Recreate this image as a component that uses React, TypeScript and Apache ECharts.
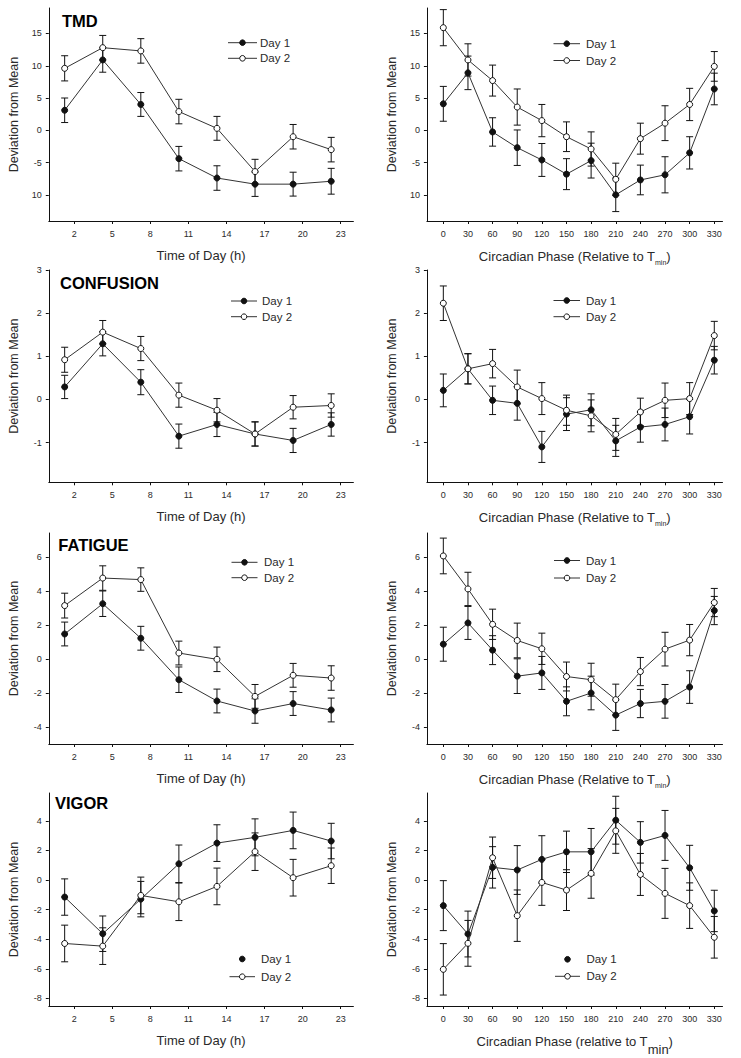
import React, { useEffect, useRef } from "react";
import * as echarts from "echarts";

// ---------- data ----------
const hours = [1.25, 4.25, 7.25, 10.25, 13.25, 16.25, 19.25, 22.25];
const phases = [0, 30, 60, 90, 120, 150, 180, 210, 240, 270, 300, 330];
const hourTicks = [2, 5, 8, 11, 14, 17, 20, 23];
const phaseTicks = [0, 30, 60, 90, 120, 150, 180, 210, 240, 270, 300, 330];

const tmdTicks = [-10, -5, 0, 5, 10, 15];
const confTicks = [-1, 0, 1, 2, 3];
const fatTicks = [-4, -2, 0, 2, 4, 6];
const vigTicks = [-8, -6, -4, -2, 0, 2, 4];

// TMD
const tmdTimeDay1 = [3.1, 10.9, 4.0, -4.4, -7.4, -8.35, -8.35, -7.9];
const tmdTimeDay1Err = [1.9, 1.9, 1.85, 1.9, 1.9, 1.9, 1.85, 2.0];
const tmdTimeDay2 = [9.6, 12.8, 12.3, 2.9, 0.3, -6.4, -1.0, -3.0];
const tmdTimeDay2Err = [1.95, 1.9, 1.9, 1.9, 1.85, 1.9, 1.9, 1.9];
const tmdPhaseDay1 = [4.1, 8.9, -0.26, -2.7, -4.6, -6.8, -4.7, -10.0, -7.7, -6.9, -3.5, 6.4];
const tmdPhaseDay1Err = [2.7, 2.6, 2.2, 2.75, 2.55, 2.4, 2.7, 2.6, 2.3, 2.8, 2.5, 2.45];
const tmdPhaseDay2 = [15.9, 10.9, 7.7, 3.6, 1.5, -1.0, -2.9, -7.6, -1.3, 1.1, 4.0, 9.9];
const tmdPhaseDay2Err = [2.8, 2.5, 2.4, 2.8, 2.5, 2.3, 2.65, 2.5, 2.4, 2.7, 2.5, 2.3];

// CONFUSION
const confTimeDay1 = [0.29, 1.29, 0.4, -0.85, -0.58, -0.8, -0.95, -0.58];
const confTimeDay1Err = [0.27, 0.28, 0.29, 0.28, 0.28, 0.28, 0.28, 0.27];
const confTimeDay2 = [0.92, 1.56, 1.18, 0.1, -0.25, -0.8, -0.18, -0.14];
const confTimeDay2Err = [0.29, 0.27, 0.28, 0.28, 0.27, 0.28, 0.27, 0.27];
const confPhaseDay1 = [0.21, 0.71, -0.02, -0.09, -1.1, -0.34, -0.24, -0.96, -0.64, -0.58, -0.4, 0.91];
const confPhaseDay1Err = [0.38, 0.35, 0.33, 0.39, 0.36, 0.38, 0.37, 0.36, 0.35, 0.38, 0.4, 0.32];
const confPhaseDay2 = [2.23, 0.71, 0.83, 0.29, 0.02, -0.25, -0.38, -0.81, -0.29, -0.02, 0.02, 1.48];
const confPhaseDay2Err = [0.4, 0.35, 0.33, 0.39, 0.37, 0.35, 0.37, 0.37, 0.32, 0.4, 0.37, 0.33];

// FATIGUE
const fatTimeDay1 = [1.49, 3.27, 1.24, -1.2, -2.45, -3.04, -2.6, -2.98];
const fatTimeDay1Err = [0.7, 0.75, 0.7, 0.75, 0.7, 0.72, 0.7, 0.7];
const fatTimeDay2 = [3.16, 4.78, 4.69, 0.37, 0.0, -2.18, -0.94, -1.1];
const fatTimeDay2Err = [0.73, 0.72, 0.69, 0.7, 0.72, 0.7, 0.7, 0.72];
const fatPhaseDay1 = [0.89, 2.14, 0.54, -0.99, -0.8, -2.47, -1.98, -3.28, -2.6, -2.47, -1.63, 2.87];
const fatPhaseDay1Err = [1.0, 0.97, 0.85, 1.02, 0.97, 0.85, 0.99, 0.9, 0.83, 0.99, 0.96, 0.83];
const fatPhaseDay2 = [6.08, 4.14, 2.06, 1.11, 0.62, -1.01, -1.2, -2.37, -0.72, 0.6, 1.13, 3.34];
const fatPhaseDay2Err = [1.05, 0.98, 0.89, 1.02, 0.92, 0.85, 0.97, 0.91, 0.83, 0.99, 0.92, 0.83];

// VIGOR
const vigTimeDay1 = [-1.15, -3.63, -1.29, 1.1, 2.5, 2.89, 3.36, 2.64];
const vigTimeDay1Err = [1.23, 1.2, 1.2, 1.27, 1.24, 1.25, 1.24, 1.2];
const vigTimeDay2 = [-4.29, -4.47, -1.04, -1.47, -0.43, 1.92, 0.16, 0.97];
const vigTimeDay2Err = [1.24, 1.24, 1.24, 1.27, 1.24, 1.27, 1.24, 1.2];
const vigPhaseDay1 = [-1.73, -3.65, 0.86, 0.68, 1.4, 1.91, 1.91, 4.05, 2.55, 3.02, 0.83, -2.09];
const vigPhaseDay1Err = [1.69, 1.55, 1.4, 1.65, 1.6, 1.4, 1.58, 1.62, 1.4, 1.69, 1.52, 1.4];
const vigPhaseDay2 = [-6.04, -4.28, 1.51, -2.41, -0.16, -0.68, 0.45, 3.33, 0.38, -0.9, -1.73, -3.87];
const vigPhaseDay2Err = [1.74, 1.55, 1.4, 1.74, 1.55, 1.38, 1.68, 1.52, 1.42, 1.69, 1.54, 1.41];

const seriesNames = ["Day 1", "Day 2"];
const titles = ["TMD", "CONFUSION", "FATIGUE", "VIGOR"];

// ---------- layout ----------
const FONT = "'Liberation Sans', Arial, Helvetica, sans-serif";
const INK = "#111";
const TXT = "#2a2a2a";

const colLayout = [
  { left: 48.8, width: 304.6, min: 0, max: 24 },
  { left: 426.9, width: 295.6, min: -20, max: 340 },
];
const rowLayout = [
  { top: 8, height: 213, min: -14.06, max: 18.95 },
  { top: 270, height: 212.3, min: -1.92, max: 3 },
  { top: 533, height: 211, min: -4.98, max: 7.43 },
  { top: 793, height: 213, min: -8.52, max: 5.89 },
];
const titlePos = [
  { x: 62, y: 21 },
  { x: 60, y: 282.5 },
  { x: 58.3, y: 545 },
  { x: 55, y: 803 },
];
// legend: [lineStartX, lineEndX, textX, y1, y2, day1HasLine]
const legendPos: any[] = [
  [228, 257, 260, 42.7, 58.3, true],
  [553.5, 580, 586, 43.7, 60.5, true],
  [231, 257, 262, 301, 316.7, true],
  [553.5, 580, 586, 300.5, 316.7, true],
  [231.5, 257.5, 264, 562.3, 577.7, true],
  [554, 580, 586, 560.5, 578, true],
  [229.5, 255, 261, 959, 976.7, false],
  [555, 580, 586.5, 959.3, 976.3, false],
];

const panels = [
  { xs: hours, ticks: tmdTicks, d1: tmdTimeDay1, e1: tmdTimeDay1Err, d2: tmdTimeDay2, e2: tmdTimeDay2Err },
  { xs: phases, ticks: tmdTicks, d1: tmdPhaseDay1, e1: tmdPhaseDay1Err, d2: tmdPhaseDay2, e2: tmdPhaseDay2Err },
  { xs: hours, ticks: confTicks, d1: confTimeDay1, e1: confTimeDay1Err, d2: confTimeDay2, e2: confTimeDay2Err },
  { xs: phases, ticks: confTicks, d1: confPhaseDay1, e1: confPhaseDay1Err, d2: confPhaseDay2, e2: confPhaseDay2Err },
  { xs: hours, ticks: fatTicks, d1: fatTimeDay1, e1: fatTimeDay1Err, d2: fatTimeDay2, e2: fatTimeDay2Err },
  { xs: phases, ticks: fatTicks, d1: fatPhaseDay1, e1: fatPhaseDay1Err, d2: fatPhaseDay2, e2: fatPhaseDay2Err },
  { xs: hours, ticks: vigTicks, d1: vigTimeDay1, e1: vigTimeDay1Err, d2: vigTimeDay2, e2: vigTimeDay2Err },
  { xs: phases, ticks: vigTicks, d1: vigPhaseDay1, e1: vigPhaseDay1Err, d2: vigPhaseDay2, e2: vigPhaseDay2Err },
];

function errorSeries(idx: number, xs: number[], ys: number[], errs: number[]) {
  return {
    type: "custom",
    xAxisIndex: idx,
    yAxisIndex: idx,
    silent: true,
    clip: false,
    z: 1,
    data: xs.map((x, i) => [x, ys[i] - errs[i], ys[i] + errs[i]]),
    renderItem: (_p: any, api: any) => {
      const x = api.value(0);
      const lo = api.coord([x, api.value(1)]);
      const hi = api.coord([x, api.value(2)]);
      const w = 3.5;
      const st = { stroke: INK, lineWidth: 1 };
      return {
        type: "group",
        children: [
          { type: "line", shape: { x1: lo[0], y1: lo[1], x2: hi[0], y2: hi[1] }, style: st },
          { type: "line", shape: { x1: lo[0] - w, y1: lo[1], x2: lo[0] + w, y2: lo[1] }, style: st },
          { type: "line", shape: { x1: hi[0] - w, y1: hi[1], x2: hi[0] + w, y2: hi[1] }, style: st },
        ],
      };
    },
  };
}

function lineSeries(idx: number, name: string, xs: number[], ys: number[], filled: boolean) {
  return {
    type: "line",
    name,
    xAxisIndex: idx,
    yAxisIndex: idx,
    data: xs.map((x, i) => [x, ys[i]]),
    symbol: "circle",
    symbolSize: 6,
    showSymbol: true,
    z: filled ? 3 : 4,
    lineStyle: { color: "#333", width: 1 },
    itemStyle: { color: filled ? INK : "#fff", borderColor: INK, borderWidth: 1 },
  };
}

function buildOption() {
  const grid: any[] = [];
  const xAxis: any[] = [];
  const yAxis: any[] = [];
  const series: any[] = [];
  const graphic: any[] = [];

  const richName = {
    n: { fontSize: 13, lineHeight: 14, height: 14, verticalAlign: "top", fontFamily: FONT, color: TXT },
    s: { fontSize: 7, lineHeight: 17, height: 8, verticalAlign: "bottom", fontFamily: FONT, color: TXT },
    b: { fontSize: 13, lineHeight: 22, height: 14, verticalAlign: "bottom", fontFamily: FONT, color: TXT },
  };

  panels.forEach((p, i) => {
    const col = i % 2;
    const row = Math.floor(i / 2);
    const c = colLayout[col];
    const r = rowLayout[row];
    grid.push({ left: c.left, top: r.top, width: c.width, height: r.height });

    let xName = "Time of Day (h)";
    if (col === 1) {
      xName =
        row === 3
          ? "{n|Circadian Phase (relative to T}{b|min}{n|)}"
          : "{n|Circadian Phase (Relative to T}{s|min}{n|)}";
    }

    xAxis.push({
      gridIndex: i,
      type: "value",
      min: c.min,
      max: c.max,
      name: xName,
      nameLocation: "middle",
      nameGap: 28,
      nameTextStyle: { fontSize: 13, color: TXT, fontFamily: FONT, rich: richName },
      axisLine: { show: true, onZero: false, lineStyle: { color: INK, width: 1 } },
      axisTick: {
        show: true,
        inside: false,
        length: 3,
        customValues: col === 0 ? hourTicks : phaseTicks,
        lineStyle: { color: INK, width: 1 },
      },
      axisLabel: {
        customValues: col === 0 ? hourTicks : phaseTicks,
        fontSize: 9,
        margin: 8,
        color: TXT,
        fontFamily: FONT,
      },
      splitLine: { show: false },
    });

    yAxis.push({
      gridIndex: i,
      type: "value",
      min: r.min,
      max: r.max,
      name: "Deviation from Mean",
      nameLocation: "middle",
      nameRotate: 90,
      nameGap: 28,
      nameTextStyle: { fontSize: 12.5, color: TXT, fontFamily: FONT },
      axisLine: { show: true, onZero: false, lineStyle: { color: INK, width: 1 } },
      axisTick: {
        show: true,
        inside: false,
        length: 3,
        customValues: p.ticks,
        lineStyle: { color: INK, width: 1 },
      },
      axisLabel: {
        customValues: p.ticks,
        fontSize: 9,
        margin: 7,
        color: TXT,
        fontFamily: FONT,
        formatter: (v: number) => (v === -10 ? "10" : String(v)),
      },
      splitLine: { show: false },
    });

    series.push(errorSeries(i, p.xs, p.d1, p.e1));
    series.push(errorSeries(i, p.xs, p.d2, p.e2));
    series.push(lineSeries(i, seriesNames[0], p.xs, p.d1, true));
    series.push(lineSeries(i, seriesNames[1], p.xs, p.d2, false));

    // legend
    const [lx0, lx1, tx, y1, y2, d1Line] = legendPos[i];
    const mx = (lx0 + lx1) / 2;
    [y1, y2].forEach((yy: number, k: number) => {
      if (k === 1 || d1Line) {
        graphic.push({
          type: "line",
          shape: { x1: lx0, y1: yy, x2: lx1, y2: yy },
          style: { stroke: "#333", lineWidth: 1 },
          silent: true,
        });
      }
      graphic.push({
        type: "circle",
        shape: { cx: mx, cy: yy, r: 2.8 },
        style: { fill: k === 0 ? INK : "#fff", stroke: INK, lineWidth: 1 },
        silent: true,
        z: 10,
      });
      graphic.push({
        type: "text",
        x: tx,
        y: yy,
        style: {
          text: seriesNames[k],
          fontSize: 11.5,
          fontFamily: FONT,
          fill: TXT,
          verticalAlign: "middle",
          align: "left",
        },
        silent: true,
      });
    });

    if (col === 0) {
      const tp = titlePos[row];
      graphic.push({
        type: "text",
        x: tp.x,
        y: tp.y,
        style: {
          text: titles[row],
          fontSize: 16.5,
          fontWeight: "bold",
          fontFamily: FONT,
          fill: "#000",
          verticalAlign: "middle",
          align: "left",
        },
        silent: true,
      });
    }
  });

  return {
    animation: false,
    backgroundColor: "#fff",
    grid,
    xAxis,
    yAxis,
    series,
    graphic,
  };
}

export default function App() {
  const ref = useRef<HTMLDivElement>(null);
  useEffect(() => {
    if (!ref.current) return;
    const chart = echarts.init(ref.current, undefined, { renderer: "svg" });
    chart.setOption(buildOption() as any);
    return () => chart.dispose();
  }, []);
  return (
    <div
      ref={ref}
      style={{ position: "absolute", left: 0, top: 0, width: 741, height: 1058, background: "#fff" }}
    />
  );
}
